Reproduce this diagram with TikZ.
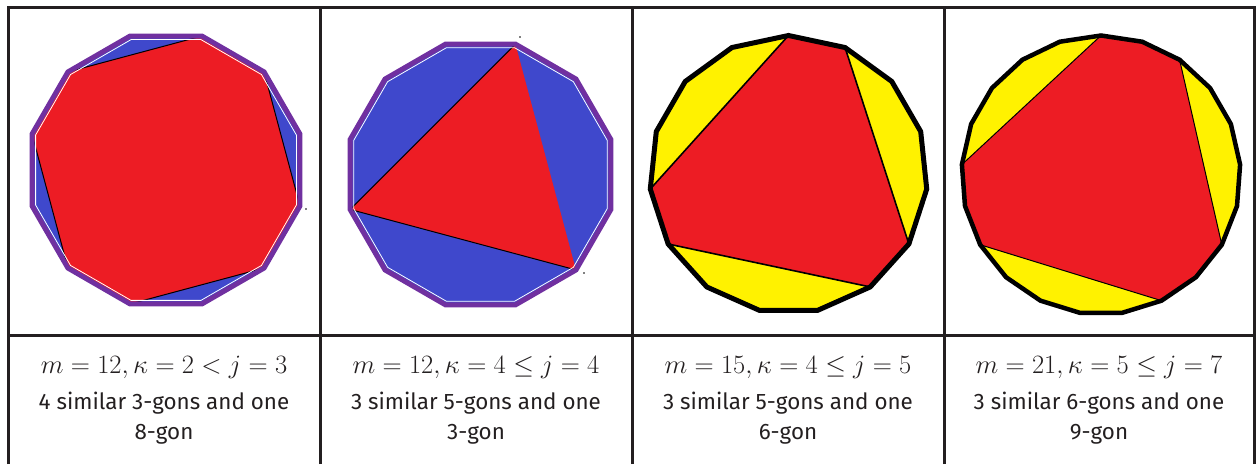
\documentclass[tikz,border=0pt]{standalone}
\usepackage{fix-cm}
\usepackage[no-math]{fontspec}
\setmainfont{Fira Sans}
\usetikzlibrary{calc}

\definecolor{paintred}{HTML}{ED1C24}
\definecolor{paintblue}{HTML}{3F48CC}
\definecolor{paintyellow}{HTML}{FFF200}
\definecolor{rim}{HTML}{7030A0}
\definecolor{gridgray}{HTML}{231F20}

\begin{document}
\begin{tikzpicture}[
x=1pt, y=1pt,
gridline/.style={draw=gridgray, line width=3pt},
chord/.style={draw=black, line width=1pt},
formula/.style={anchor=base, inner sep=0pt, text=gridgray, font=\fontsize{26.5}{30}\selectfont},
caption/.style={anchor=base, inner sep=0pt, text=gridgray, font=\fontsize{22.4}{26}\selectfont}
]

\useasboundingbox (0,0) rectangle (1256,464);

% table
\draw[gridline] (8,0) -- (8,456) -- (1254,456) -- (1254,0);
\draw[gridline] (8,129) -- (1254,129);
\foreach \x in {320,632,944}
  \draw[gridline] (\x,0) -- (\x,456);

% m = 12, 4 triangles
\coordinate (o1) at (166,294);
\foreach \k in {0,...,11} {
  \coordinate (a\k) at ($(o1)+({15+30*\k}:138.7)$);
  \coordinate (ai\k) at ($(o1)+({15+30*\k}:135)$);
}
\fill[paintblue] (a0) \foreach \k in {1,...,11} { -- (a\k) } -- cycle;
\fill[paintred] (a1) -- (a2) -- (a4) -- (a5) -- (a7) -- (a8) -- (a10) -- (a11) -- cycle;
\draw[chord] (a11) -- (a1) (a2) -- (a4) (a5) -- (a7) (a8) -- (a10);
\draw[white, line width=0.8pt] (ai0) \foreach \k in {1,...,11} { -- (ai\k) } -- cycle;
\draw[rim, line width=5pt] (a0) \foreach \k in {1,...,11} { -- (a\k) } -- cycle;
\fill (306,255) circle (0.8);

% m = 12, triangle
\coordinate (o2) at (480.5,289.5);
\foreach \k in {0,...,11} {
  \coordinate (b\k) at ($(o2)+({15+30*\k}:135)$);
  \coordinate (bi\k) at ($(o2)+({15+30*\k}:131.3)$);
}
\fill[paintblue] (b0) \foreach \k in {1,...,11} { -- (b\k) } -- cycle;
\fill[paintred] (b2) -- (b6) -- (b10) -- cycle;
\draw[chord] (b2) -- (b6) -- (b10);
\draw[white, line width=0.8pt] (bi0) \foreach \k in {1,...,11} { -- (bi\k) } -- cycle;
\draw[rim, line width=5pt] (b0) \foreach \k in {1,...,11} { -- (b\k) } -- cycle;
\fill (520,427) circle (0.8);
\fill (584,191) circle (0.8);

% m = 15
\coordinate (o3) at (788.5,289.5);
\foreach \k in {0,...,14}
  \coordinate (c\k) at ($(o3)+({90-24*\k}:139)$);
\fill[paintyellow] (c0) \foreach \k in {1,...,14} { -- (c\k) } -- cycle;
\fill[paintred] (c0) -- (c1) -- (c5) -- (c6) -- (c10) -- (c11) -- cycle;
\draw[chord, line width=1.6pt] (c1) -- (c5) (c6) -- (c10) (c11) -- (c0);
\draw[black, line width=5pt] (c0) \foreach \k in {1,...,14} { -- (c\k) } -- cycle;

% m = 21
\coordinate (o4) at (1101,289);
\foreach \k in {0,...,20}
  \coordinate (d\k) at ($(o4)+({90-360/21*\k}:139.5)$);
\fill[paintyellow] (d0) \foreach \k in {1,...,20} { -- (d\k) } -- cycle;
\fill[paintred] (d0) -- (d1) -- (d2) -- (d7) -- (d8) -- (d9) -- (d14) -- (d15) -- (d16) -- cycle;
\draw[chord] (d2) -- (d7) (d9) -- (d14) (d16) -- (d0);
\draw[black, line width=4.5pt] (d0) \foreach \k in {1,...,20} { -- (d\k) } -- cycle;

% captions
\foreach \x/\eq/\txt/\last/\n in {
  164/{$m=12,\kappa=2<j=3$}/{4 similar 3-gons and one}/{8-gon}/1,
  476/{$m=12,\kappa=4\leq j=4$}/{3 similar 5-gons and one}/{3-gon}/2,
  788/{$m=15,\kappa=4\leq j=5$}/{3 similar 5-gons and one}/{6-gon}/3,
  1099/{$m=21,\kappa=5\leq j=7$}/{3 similar 6-gons and one}/{9-gon}/4} {
  \node[formula] (eq\n) at (\x,91) {\eq};
  \node[caption] (ln\n) at (\x,55) {\txt};
  \node[caption] (gon\n) at (\x,25) {\last};
}

\end{tikzpicture}
\end{document}
